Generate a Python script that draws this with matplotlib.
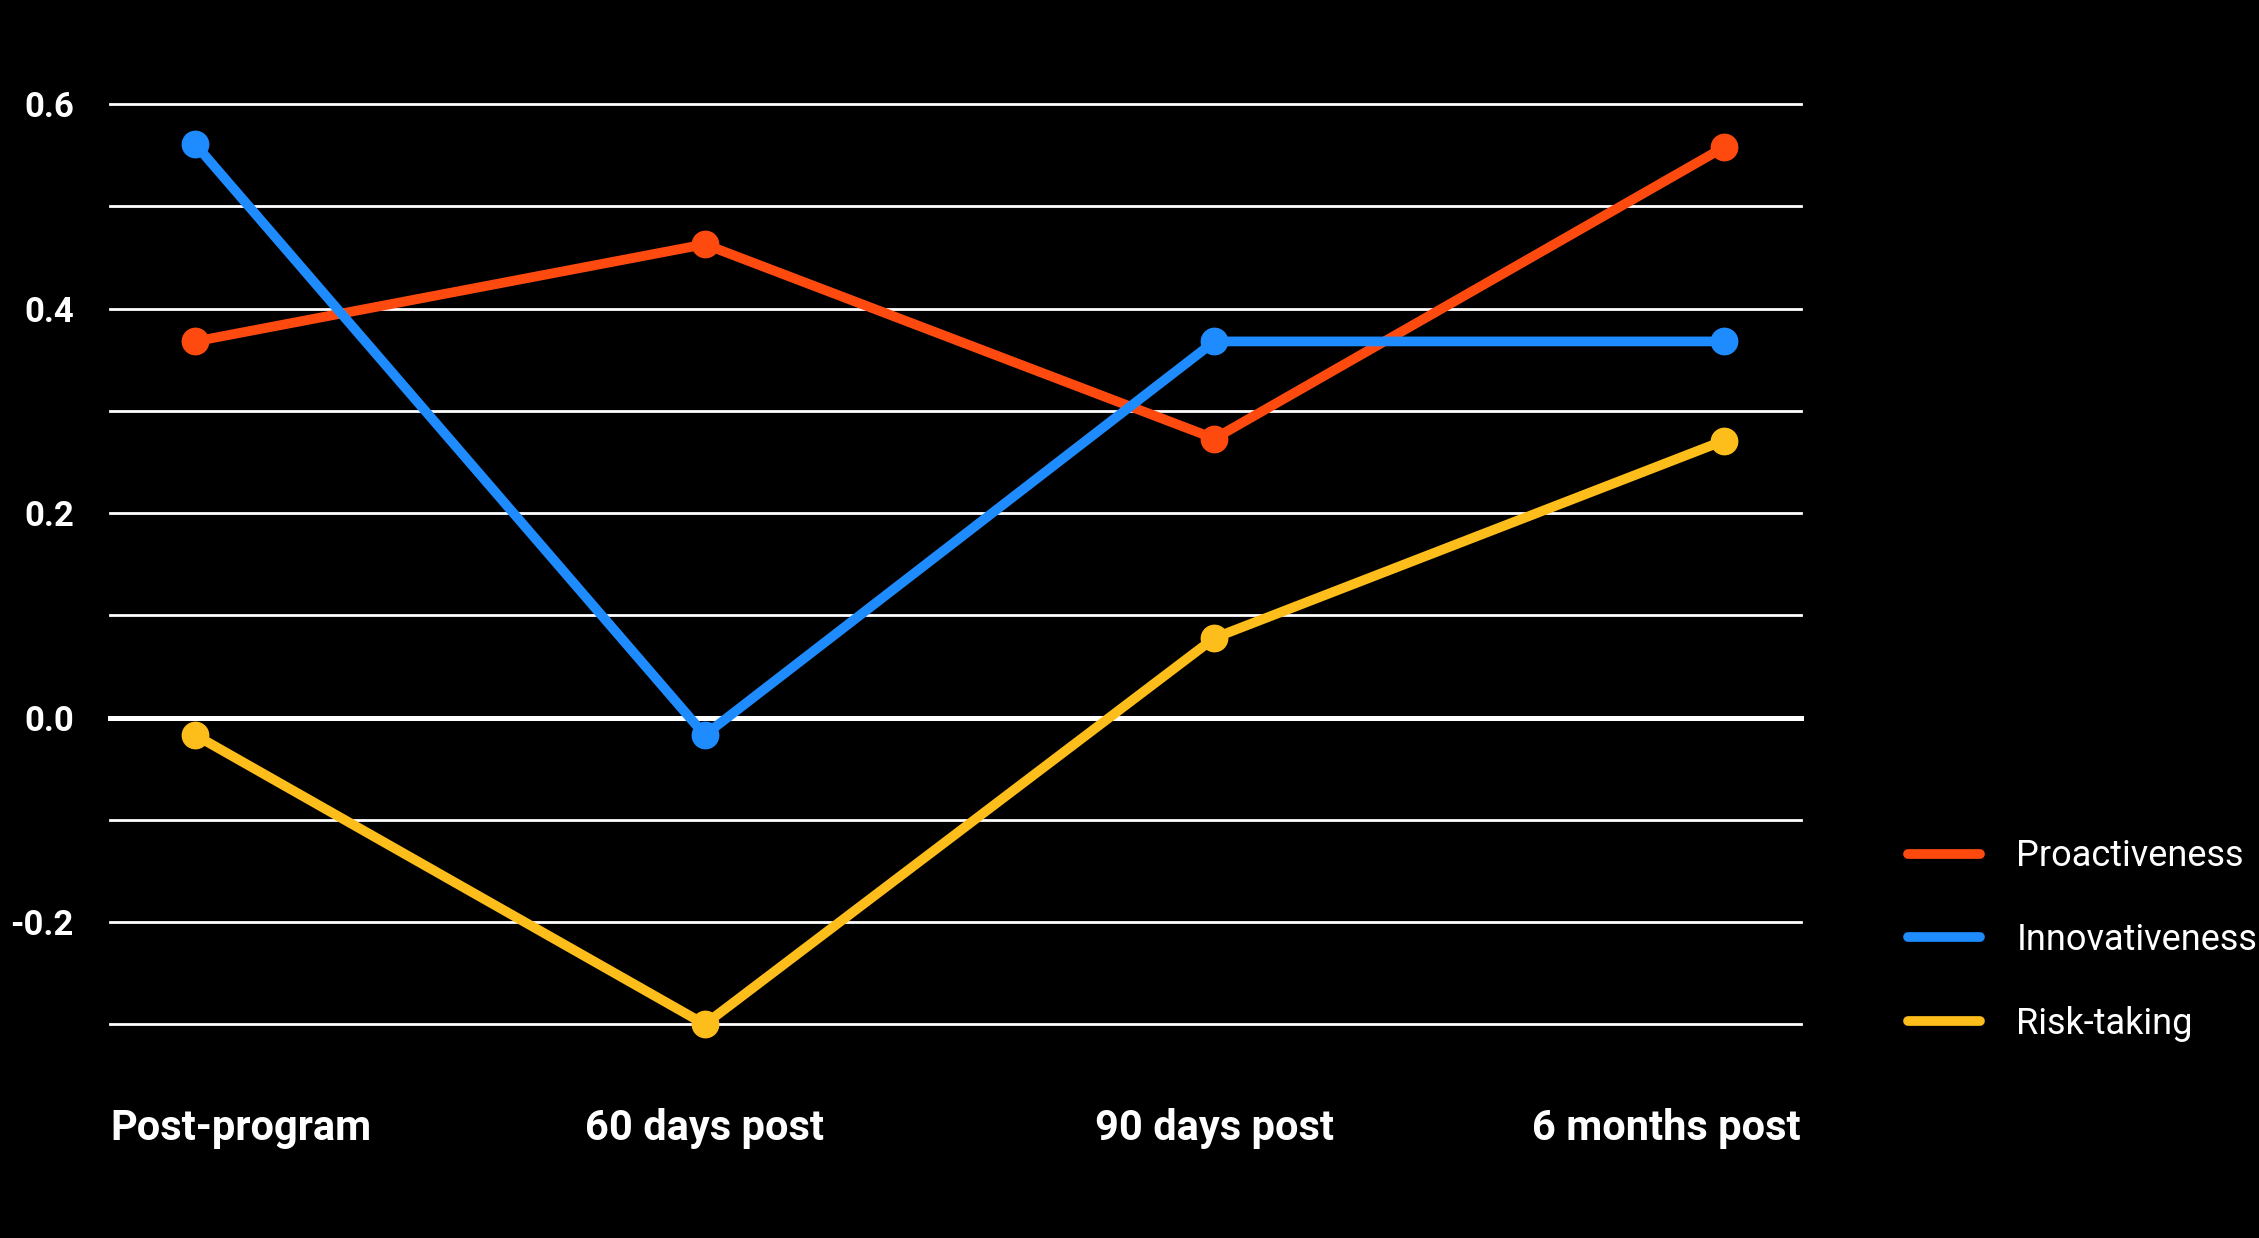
import matplotlib
matplotlib.use('Agg')
import matplotlib.pyplot as plt
import numpy as np

categories = ['Post-program', '60 days post', '90 days post', '6 months post']
proactiveness = [0.368, 0.463, 0.273, 0.558]
innovativeness = [0.561, -0.017, 0.368, 0.368]
risk_taking = [-0.017, -0.300, 0.078, 0.271]
series_names = ['Proactiveness', 'Innovativeness', 'Risk-taking']
colors = ['#FF4A0F', '#1E8CFF', '#FDBD1B']
y_labels = [-0.2, 0.0, 0.2, 0.4, 0.6]
y_grid = [-0.3, -0.2, -0.1, 0.0, 0.1, 0.2, 0.3, 0.4, 0.5, 0.6]

plt.rcParams['font.family'] = ['Roboto', 'DejaVu Sans']

fig = plt.figure(figsize=(22.59, 12.38), dpi=100, facecolor='black')
ax = fig.add_axes([0.0487, 0.1726, 0.7486, 0.7432], facecolor='black')

x = np.arange(len(categories))

# grid first, zero line heavier
for g in y_grid:
    lw = 3.6 if g == 0 else 2.0
    ax.axhline(g, color='white', lw=lw, zorder=1, clip_on=False)

for vals, name, c in zip([proactiveness, innovativeness, risk_taking], series_names, colors):
    ax.plot(x, vals, color=c, lw=7, marker='o', markersize=19,
            solid_capstyle='round', label=name, clip_on=False, zorder=3)

ax.set_xlim(-0.167, 3.151)
ax.set_ylim(-0.3, 0.6)

for s in ax.spines.values():
    s.set_visible(False)

ax.set_yticks(y_labels)
ax.set_yticklabels(['%.1f' % v for v in y_labels])
ax.tick_params(axis='y', length=0, pad=26, labelsize=25, labelcolor='white')
for lab in ax.get_yticklabels():
    lab.set_fontweight('bold')
ax.set_xticks([])

# category labels, outer ones kept inside the plot width
lab_y = -0.113
for i, cat in enumerate(categories):
    if i == 0:
        ax.text(0, lab_y, cat, transform=ax.transAxes, ha='left', va='center',
                color='white', fontsize=30, fontweight='bold')
    elif i == len(categories) - 1:
        ax.text(1, lab_y, cat, transform=ax.transAxes, ha='right', va='center',
                color='white', fontsize=30, fontweight='bold')
    else:
        ax.text(x[i], lab_y, cat, transform=ax.get_xaxis_transform(), ha='center', va='center',
                color='white', fontsize=30, fontweight='bold')

handles = [plt.Line2D([0], [0], color=c, lw=7, solid_capstyle='round') for c in colors]
leg = fig.legend(handles, series_names, loc='center left', bbox_to_anchor=(0.8446, 0.2407),
                 frameon=False, fontsize=26, handlelength=2.0, handletextpad=1.0,
                 labelspacing=1.32, borderpad=0, borderaxespad=0)
for t in leg.get_texts():
    t.set_color('white')

plt.savefig('out.png', dpi=100, facecolor='black')
plt.close()
